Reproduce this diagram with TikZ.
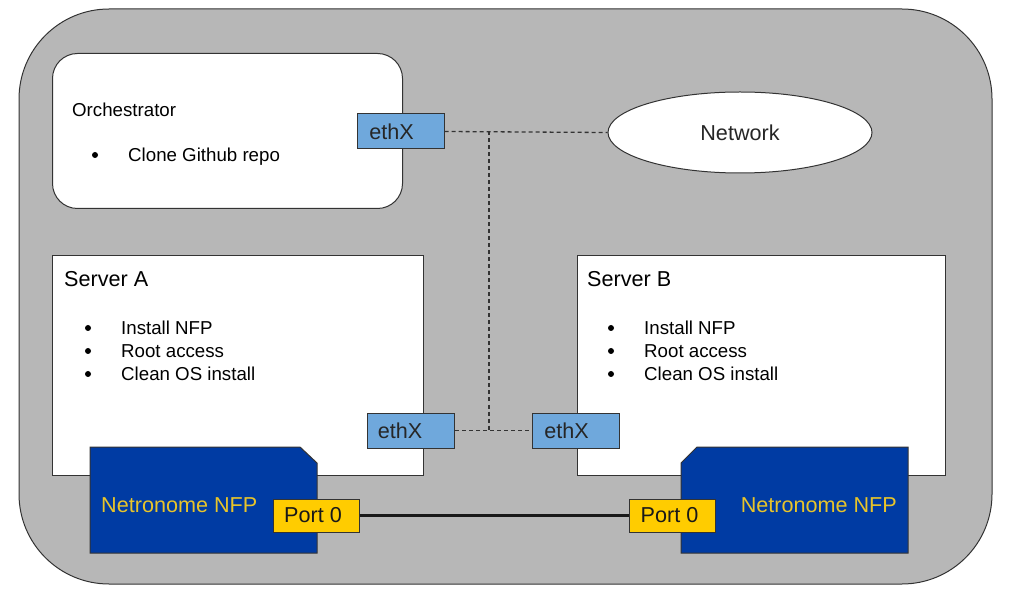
\documentclass[tikz,border=0pt]{standalone}
\usepackage{fontspec}
\setmainfont{Liberation Sans}
\usetikzlibrary{shapes.geometric}
\definecolor{outerfill}{HTML}{B7B7B7}
\definecolor{edgegray}{HTML}{333333}
\definecolor{ethblue}{HTML}{6FA8DC}
\definecolor{portyellow}{HTML}{FFCC00}
\definecolor{cardblue}{HTML}{003BA3}
\definecolor{cardtext}{HTML}{E8C42A}
\tikzset{
  bigtxt/.style={font=\fontsize{21.6}{24}\selectfont},
  smalltxt/.style={font=\fontsize{18.7}{21}\selectfont},
  whitebox/.style={draw=edgegray, fill=white, line width=1pt, inner sep=0pt},
  ethbox/.style={draw=edgegray, fill=ethblue, line width=1pt, minimum width=87pt, minimum height=35pt, inner sep=0pt, bigtxt, text=black!85},
  portbox/.style={draw=edgegray, fill=portyellow, line width=1pt, minimum width=86pt, minimum height=33pt, inner sep=0pt, bigtxt, text=black!90},
  card/.style={draw=edgegray, fill=cardblue, line width=1pt},
  dashlink/.style={draw=black!80, line width=1.3pt, dash pattern=on 4pt off 3pt},
  bulletdot/.style={fill=black, draw=none},
}
\begin{document}
\begin{tikzpicture}[x=1pt,y=-1pt]
\useasboundingbox (0,0) rectangle (1009,601);
% outer region
\draw[draw=edgegray, fill=outerfill, line width=1pt, rounded corners=90pt] (19,9) rectangle (992,584);
% orchestrator
\node[whitebox, rounded corners=25pt, minimum width=350pt, minimum height=155pt, anchor=north west] (orch) at (52,53) {};
\node[smalltxt, anchor=base west, inner sep=0pt] (orchT) at (72,116.5) {Orchestrator};
\fill[bulletdot] (95,155) circle (3pt);
\node[smalltxt, anchor=base west, inner sep=0pt] (orchB) at (128,161.5) {Clone Github repo};
% servers
\node[whitebox, minimum width=371pt, minimum height=220pt, anchor=north west] (srvA) at (52,255) {};
\node[whitebox, minimum width=368pt, minimum height=220pt, anchor=north west] (srvB) at (577,255) {};
\node[bigtxt, anchor=base west, inner sep=0pt] (srvAT) at (64,286.5) {Server A};
\node[bigtxt, anchor=base west, inner sep=0pt] (srvBT) at (587,286.5) {Server B};
\foreach \sx/\tag in {0/A,523/B}{
  \foreach \yy/\txt [count=\i] in {328/Install NFP,351/Root access,374/Clean OS install}{
    \fill[bulletdot] (88+\sx,\yy) circle (3pt);
    \node[smalltxt, anchor=base west, inner sep=0pt] (item\tag\i) at (121+\sx,\yy+6.7) {\txt};
  }
}
% network
\node[draw=edgegray, fill=white, line width=1pt, ellipse, minimum width=264pt, minimum height=81pt, inner sep=0pt, bigtxt, text=black!85] (net) at (740,132.5) {Network};
% NFP cards
\draw[card] (90,447) -- (300,447) -- (317,463) -- (317,553) -- (90,553) -- cycle;
\draw[card] (697,447) -- (908,447) -- (908,553) -- (681,553) -- (681,463) -- cycle;
\node[bigtxt, text=cardtext, anchor=base west, inner sep=0pt] (nfpA) at (101,512.5) {Netronome NFP};
\node[bigtxt, text=cardtext, anchor=base east, inner sep=0pt] (nfpB) at (897,512.5) {Netronome NFP};
% ethX boxes
\node[ethbox] (ethT) at (400.5,131.5) {\hspace*{-18pt}ethX};
\node[ethbox] (ethA) at (411,430.5) {\hspace*{-22pt}ethX};
\node[ethbox] (ethB) at (575.5,430.5) {\hspace*{-18pt}ethX};
% dashed links
\coordinate (j1) at (489,131.5);
\coordinate (j2) at (489,430.5);
\draw[dashlink] (ethT.east) -- (net.west);
\draw[dashlink] (j1) -- (j2);
\draw[dashlink] (ethA.east) -- (ethB.west);
% ports
\node[portbox] (portA) at (316,515.5) {\hspace*{-6pt}Port 0};
\node[portbox] (portB) at (672.5,515.5) {\hspace*{-6pt}Port 0};
\draw[black!90, line width=3pt] (portA.east) -- (portB.west);
\end{tikzpicture}
\end{document}
